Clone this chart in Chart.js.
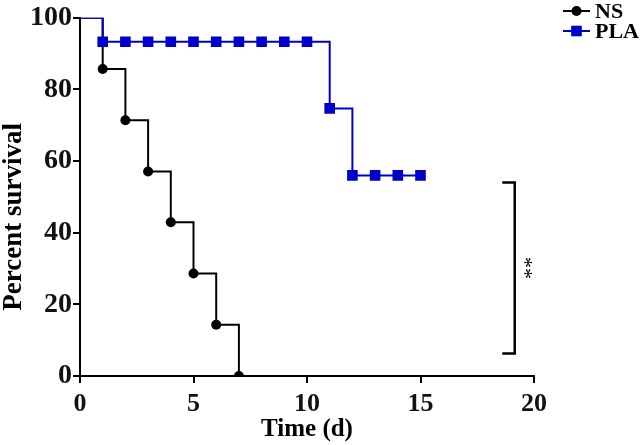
<!DOCTYPE html>
<html>
<head>
<meta charset="utf-8">
<script src="https://cdn.jsdelivr.net/npm/chart.js@4.4.0/dist/chart.umd.min.js"></script>
<style>
  html, body { margin: 0; padding: 0; background: #fff; }
  #wrap { width: 644px; height: 445px; }
</style>
</head>
<body>
<div id="wrap"><canvas id="survivalChart"></canvas></div>
<script>
// ---------------- Data ----------------
// Kaplan-Meier style survival, days vs percent
const nsDays = [0, 1, 2, 3, 4, 5, 6, 7];
const nsSurvival = [100, 85.7, 71.4, 57.1, 42.9, 28.6, 14.3, 0];

const plaDays = [0, 1, 2, 3, 4, 5, 6, 7, 8, 9, 10, 11, 12, 13, 14, 15];
const plaSurvival = [100, 93.3, 93.3, 93.3, 93.3, 93.3, 93.3, 93.3, 93.3, 93.3, 93.3, 74.7, 56, 56, 56, 56];

const seriesNames = ["NS", "PLA"];
const xTicks = [0, 5, 10, 15, 20];
const yTicks = [0, 20, 40, 60, 80, 100];
const yTitle = "Percent survival";

// significance bracket (data units) and its label
const bracketX = [18.6, 19.15];
const bracketY = [54, 6.3];
const bracketLabel = "**";

const FONT = "'Liberation Serif', 'Times New Roman', serif";
const BLUE = "#0000c8";

function toPoints(xs, ys) {
  return xs.map((x, i) => ({ x: x, y: ys[i] }));
}

// no marker on the starting point
function radii(n, r) {
  const out = [];
  for (let i = 0; i < n; i++) out.push(i === 0 ? 0 : r);
  return out;
}

// ---------------- Plugins ----------------
// y title, legend with line + marker, and the significance bracket
const extrasPlugin = {
  id: "extras",
  afterDraw(chart) {
    const ctx = chart.ctx;
    const xs = chart.scales.x;
    const ys = chart.scales.y;
    const area = chart.chartArea;

    // y axis title (sits a bit below the centre of the axis)
    ctx.save();
    ctx.translate(14, (area.top + area.bottom) / 2 + 20);
    ctx.rotate(-Math.PI / 2);
    ctx.fillStyle = "#000";
    ctx.font = "bold 27px " + FONT;
    ctx.textAlign = "center";
    ctx.textBaseline = "middle";
    ctx.fillText(yTitle, 0, 0);
    ctx.restore();

    // bracket
    const bx0 = xs.getPixelForValue(bracketX[0]);
    const bx1 = xs.getPixelForValue(bracketX[1]);
    const by0 = ys.getPixelForValue(bracketY[0]);
    const by1 = ys.getPixelForValue(bracketY[1]);
    ctx.save();
    ctx.strokeStyle = "#000";
    ctx.lineWidth = 2.5;
    ctx.beginPath();
    ctx.moveTo(bx0, by0);
    ctx.lineTo(bx1, by0);
    ctx.lineTo(bx1, by1);
    ctx.lineTo(bx0, by1);
    ctx.stroke();

    ctx.translate(bx1 + 9, (by0 + by1) / 2);
    ctx.rotate(Math.PI / 2);
    ctx.fillStyle = "#000";
    ctx.font = "22px " + FONT;
    ctx.textAlign = "center";
    ctx.textBaseline = "middle";
    ctx.fillText(bracketLabel, 0, 0);
    ctx.restore();

    // legend
    const lx = 563, lw = 27;
    const rows = [
      { name: seriesNames[0], color: "#000", style: "circle", r: 5, y: 11 },
      { name: seriesNames[1], color: BLUE, style: "rect", r: 7.5, y: 31 },
    ];
    ctx.save();
    rows.forEach((row) => {
      ctx.strokeStyle = row.color;
      ctx.lineWidth = 2;
      ctx.beginPath();
      ctx.moveTo(lx, row.y);
      ctx.lineTo(lx + lw, row.y);
      ctx.stroke();
      ctx.fillStyle = row.color;
      Chart.helpers.drawPoint(ctx, { pointStyle: row.style, radius: row.r, borderWidth: 0, rotation: 0 }, lx + lw / 2, row.y);
      ctx.fillStyle = "#000";
      ctx.font = "bold 22px " + FONT;
      ctx.textAlign = "left";
      ctx.textBaseline = "middle";
      ctx.fillText(row.name, lx + lw + 5, row.y + 1);
    });
    ctx.restore();
  },
};

// ---------------- Chart ----------------
const ctx = document.getElementById("survivalChart").getContext("2d");
new Chart(ctx, {
  type: "scatter",
  data: {
    datasets: [
      {
        label: seriesNames[0],
        data: toPoints(nsDays, nsSurvival),
        showLine: true,
        stepped: "before",
        borderColor: "#000",
        backgroundColor: "#000",
        borderWidth: 2,
        pointStyle: "circle",
        pointRadius: radii(nsDays.length, 5),
        pointBorderWidth: 0,
        order: 1,
      },
      {
        label: seriesNames[1],
        data: toPoints(plaDays, plaSurvival),
        showLine: true,
        stepped: "before",
        borderColor: BLUE,
        backgroundColor: BLUE,
        borderWidth: 2,
        pointStyle: "rect",
        pointRadius: radii(plaDays.length, 7.5),
        pointBorderWidth: 0,
        order: 0,
      },
    ],
  },
  options: {
    responsive: true,
    maintainAspectRatio: false,
    animation: false,
    layout: { padding: { top: 15, right: 110, left: 0, bottom: 0 } },
    plugins: {
      legend: { display: false },
      tooltip: { enabled: false },
    },
    scales: {
      x: {
        type: "linear",
        min: xTicks[0],
        max: xTicks[xTicks.length - 1],
        afterBuildTicks: (axis) => { axis.ticks = xTicks.map((v) => ({ value: v })); },
        afterFit: (axis) => { axis.height = 69; },
        border: { color: "#000", width: 2 },
        grid: { drawOnChartArea: false, drawTicks: true, tickLength: 7, color: "#000", lineWidth: 2 },
        ticks: { color: "#111", padding: 6, font: { family: FONT, size: 26, weight: "bold" } },
        title: { display: true, text: "Time (d)", color: "#000", padding: 0, font: { family: FONT, size: 25, weight: "bold" } },
      },
      y: {
        min: yTicks[0],
        max: yTicks[yTicks.length - 1],
        afterBuildTicks: (axis) => { axis.ticks = yTicks.map((v) => ({ value: v })); },
        afterFit: (axis) => { axis.width = 80; },
        border: { color: "#000", width: 2 },
        grid: { drawOnChartArea: false, drawTicks: true, tickLength: 7, color: "#000", lineWidth: 2 },
        ticks: { color: "#111", padding: 1, font: { family: FONT, size: 28, weight: "bold" } },
        title: { display: false },
      },
    },
  },
  plugins: [extrasPlugin],
});
</script>
</body>
</html>
